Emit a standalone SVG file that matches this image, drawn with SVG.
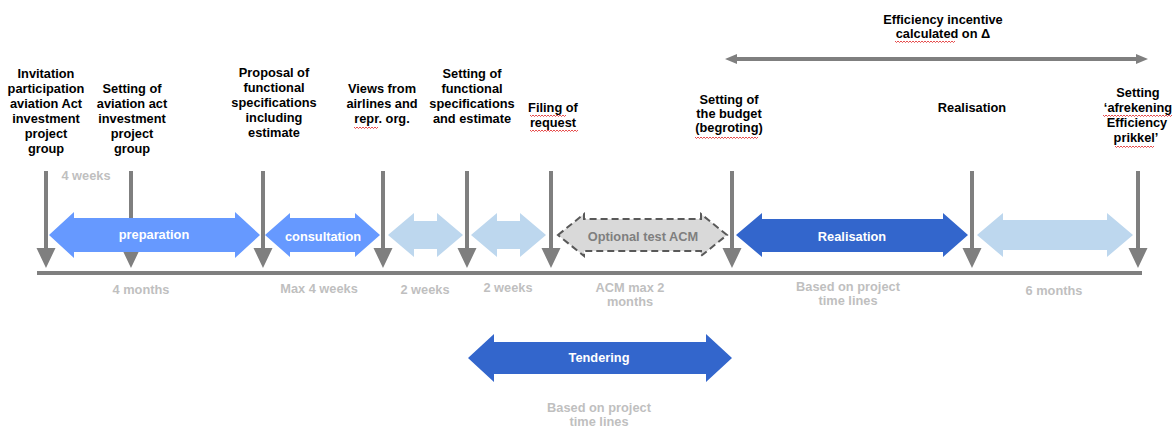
<svg xmlns="http://www.w3.org/2000/svg" width="1173" height="427" viewBox="0 0 1173 427">
<style>
.lbl{font-family:"Liberation Sans",Arial,sans-serif;font-size:12.8px;font-weight:bold;fill:#000;text-anchor:middle}
.in{font-family:"Liberation Sans",Arial,sans-serif;font-size:12.8px;font-weight:bold;fill:#fff;text-anchor:middle}
.dur{font-family:"Liberation Sans",Arial,sans-serif;font-size:12.8px;font-weight:bold;fill:#bfbfbf;text-anchor:middle}
.opt{font-family:"Liberation Sans",Arial,sans-serif;font-size:12.8px;font-weight:bold;fill:#7f7f7f;text-anchor:middle}
.mid{fill:#6699ff}
.light{fill:#bdd7ee}
.dark{fill:#3366cc}
.gr{fill:#7f7f7f}
.sq{fill:none;stroke:#e02020;stroke-width:0.8}
</style>
<defs>
<path id="down" d="M-2,0 L2,0 L2,77 L9.5,77 L0,97 L-9.5,77 L-2,77 Z" fill="#7f7f7f"/>
</defs>
<g id="connectors">
<rect x="37" y="271" width="1105" height="4" fill="#7f7f7f"/>
<use href="#down" x="46" y="171"/>
<use href="#down" x="131" y="171"/>
<use href="#down" x="263" y="171"/>
<use href="#down" x="383" y="171"/>
<use href="#down" x="467" y="171"/>
<use href="#down" x="551" y="171"/>
<use href="#down" x="732" y="171"/>
<use href="#down" x="972" y="171"/>
<use href="#down" x="1138" y="171"/>
<path class="gr" d="M725,59 L737,54 L737,57 L1136,57 L1136,54 L1148,59 L1136,64 L1136,61 L737,61 L737,64 Z"/>
</g>
<g id="preparation">
<path class="mid" d="M49,235 L74,212 L74,218 L235,218 L235,212 L260,235 L235,258 L235,252 L74,252 L74,258 Z"/>
<text class="in" x="154" y="239">preparation</text>
</g>
<g id="consultation">
<path class="mid" d="M265,235 L290,213 L290,218 L355,218 L355,213 L380,235 L355,257 L355,252 L290,252 L290,257 Z"/>
<text class="in" x="323" y="241">consultation</text>
</g>
<g id="twoweeks1">
<path class="light" d="M388,235 L414,213 L414,221 L437,221 L437,213 L463,235 L437,257 L437,249 L414,249 L414,257 Z"/>
</g>
<g id="twoweeks2">
<path class="light" d="M471,235 L497,213 L497,221 L520,221 L520,213 L546,235 L520,257 L520,249 L497,249 L497,257 Z"/>
</g>
<g id="optional">
<path d="M558,235 L584,214 L584,219 L701,219 L701,214 L727,235 L701,256 L701,251 L584,251 L584,256 Z" fill="#d9d9d9" stroke="#595959" stroke-width="2" stroke-dasharray="7,4"/>
<text class="opt" x="643" y="241">Optional test ACM</text>
</g>
<g id="realisation">
<path class="dark" d="M736,235 L762,213 L762,219 L943,219 L943,213 L968,235 L943,257 L943,252 L762,252 L762,257 Z"/>
<text class="in" x="852" y="241">Realisation</text>
</g>
<g id="sixmonths">
<path class="light" d="M977,235 L1003,213 L1003,220 L1107,220 L1107,213 L1133,235 L1107,257 L1107,250 L1003,250 L1003,257 Z"/>
</g>
<g id="tendering">
<path class="dark" d="M468,358 L494,334 L494,342 L706,342 L706,334 L732,358 L706,382 L706,374 L494,374 L494,382 Z"/>
<text class="in" x="599" y="362">Tendering</text>
</g>
<g id="labels-top">
<text class="lbl" x="46"><tspan x="46" y="78">Invitation</tspan><tspan x="46" y="93">participation</tspan><tspan x="46" y="108">aviation Act</tspan><tspan x="46" y="123">investment</tspan><tspan x="46" y="138">project</tspan><tspan x="46" y="153">group</tspan></text>
<text class="lbl" x="132"><tspan x="132" y="93">Setting of</tspan><tspan x="132" y="108">aviation act</tspan><tspan x="132" y="123">investment</tspan><tspan x="132" y="138">project</tspan><tspan x="132" y="153">group</tspan></text>
<text class="lbl" x="274"><tspan x="274" y="77">Proposal of</tspan><tspan x="274" y="92">functional</tspan><tspan x="274" y="107">specifications</tspan><tspan x="274" y="122">including</tspan><tspan x="274" y="137">estimate</tspan></text>
<text class="lbl" x="382"><tspan x="382" y="93">Views from</tspan><tspan x="382" y="108">airlines and</tspan><tspan x="382" y="123">repr. org.</tspan></text>
<text class="lbl" x="472"><tspan x="472" y="78">Setting of</tspan><tspan x="472" y="93">functional</tspan><tspan x="472" y="108">specifications</tspan><tspan x="472" y="123">and estimate</tspan></text>
<text class="lbl" x="553"><tspan x="553" y="112">Filing of</tspan><tspan x="553" y="127">request</tspan></text>
<text class="lbl" x="943"><tspan x="943" y="24">Efficiency incentive</tspan><tspan x="943" y="38">calculated on Δ</tspan></text>
<text class="lbl" x="729"><tspan x="729" y="104">Setting of</tspan><tspan x="729" y="118">the budget</tspan><tspan x="729" y="132">(begroting)</tspan></text>
<text class="lbl" x="972" y="112">Realisation</text>
<text class="lbl" x="1137"><tspan x="1138" y="97">Setting</tspan><tspan x="1138" y="112">‘afrekening</tspan><tspan x="1137" y="127">Efficiency</tspan><tspan x="1136" y="142">prikkel’</tspan></text>
</g>
<g id="spellcheck">
<path class="sq" d="M354,127 l1.5,1.5 l1.5,-1.5 l1.5,1.5 l1.5,-1.5 l1.5,1.5 l1.5,-1.5 l1.5,1.5 l1.5,-1.5 l1.5,1.5 l1.5,-1.5 l1.5,1.5 l1.5,-1.5 l1.5,1.5 l1.5,-1.5 l1.5,1.5 l1.5,-1.5"/>
<path class="sq" d="M530,115 l1.5,1.5 l1.5,-1.5 l1.5,1.5 l1.5,-1.5 l1.5,1.5 l1.5,-1.5 l1.5,1.5 l1.5,-1.5 l1.5,1.5 l1.5,-1.5 l1.5,1.5 l1.5,-1.5 l1.5,1.5 l1.5,-1.5 l1.5,1.5 l1.5,-1.5 l1.5,1.5 l1.5,-1.5 l1.5,1.5 l1.5,-1.5 l1.5,1.5 l1.5,-1.5 l1.5,1.5 l1.5,-1.5"/>
<path class="sq" d="M530,130 l1.5,1.5 l1.5,-1.5 l1.5,1.5 l1.5,-1.5 l1.5,1.5 l1.5,-1.5 l1.5,1.5 l1.5,-1.5 l1.5,1.5 l1.5,-1.5 l1.5,1.5 l1.5,-1.5 l1.5,1.5 l1.5,-1.5 l1.5,1.5 l1.5,-1.5 l1.5,1.5 l1.5,-1.5 l1.5,1.5 l1.5,-1.5 l1.5,1.5 l1.5,-1.5 l1.5,1.5 l1.5,-1.5 l1.5,1.5 l1.5,-1.5 l1.5,1.5 l1.5,-1.5 l1.5,1.5 l1.5,-1.5 l1.5,1.5 l1.5,-1.5"/>
<path class="sq" d="M895,41 l1.5,1.5 l1.5,-1.5 l1.5,1.5 l1.5,-1.5 l1.5,1.5 l1.5,-1.5 l1.5,1.5 l1.5,-1.5 l1.5,1.5 l1.5,-1.5 l1.5,1.5 l1.5,-1.5 l1.5,1.5 l1.5,-1.5 l1.5,1.5 l1.5,-1.5 l1.5,1.5 l1.5,-1.5 l1.5,1.5 l1.5,-1.5 l1.5,1.5 l1.5,-1.5 l1.5,1.5 l1.5,-1.5 l1.5,1.5 l1.5,-1.5 l1.5,1.5 l1.5,-1.5 l1.5,1.5 l1.5,-1.5 l1.5,1.5 l1.5,-1.5 l1.5,1.5 l1.5,-1.5 l1.5,1.5 l1.5,-1.5 l1.5,1.5 l1.5,-1.5 l1.5,1.5 l1.5,-1.5"/>
<path class="sq" d="M695,137 l1.5,1.5 l1.5,-1.5 l1.5,1.5 l1.5,-1.5 l1.5,1.5 l1.5,-1.5 l1.5,1.5 l1.5,-1.5 l1.5,1.5 l1.5,-1.5 l1.5,1.5 l1.5,-1.5 l1.5,1.5 l1.5,-1.5 l1.5,1.5 l1.5,-1.5 l1.5,1.5 l1.5,-1.5 l1.5,1.5 l1.5,-1.5 l1.5,1.5 l1.5,-1.5 l1.5,1.5 l1.5,-1.5 l1.5,1.5 l1.5,-1.5 l1.5,1.5 l1.5,-1.5 l1.5,1.5 l1.5,-1.5 l1.5,1.5 l1.5,-1.5 l1.5,1.5 l1.5,-1.5 l1.5,1.5 l1.5,-1.5 l1.5,1.5 l1.5,-1.5 l1.5,1.5 l1.5,-1.5 l1.5,1.5 l1.5,-1.5"/>
<path class="sq" d="M1103,115 l1.5,1.5 l1.5,-1.5 l1.5,1.5 l1.5,-1.5 l1.5,1.5 l1.5,-1.5 l1.5,1.5 l1.5,-1.5 l1.5,1.5 l1.5,-1.5 l1.5,1.5 l1.5,-1.5 l1.5,1.5 l1.5,-1.5 l1.5,1.5 l1.5,-1.5 l1.5,1.5 l1.5,-1.5 l1.5,1.5 l1.5,-1.5 l1.5,1.5 l1.5,-1.5 l1.5,1.5 l1.5,-1.5 l1.5,1.5 l1.5,-1.5 l1.5,1.5 l1.5,-1.5 l1.5,1.5 l1.5,-1.5 l1.5,1.5 l1.5,-1.5 l1.5,1.5 l1.5,-1.5 l1.5,1.5 l1.5,-1.5 l1.5,1.5 l1.5,-1.5 l1.5,1.5 l1.5,-1.5 l1.5,1.5 l1.5,-1.5 l1.5,1.5 l1.5,-1.5 l1.5,1.5 l1.5,-1.5"/>
<path class="sq" d="M1115,146 l1.5,1.5 l1.5,-1.5 l1.5,1.5 l1.5,-1.5 l1.5,1.5 l1.5,-1.5 l1.5,1.5 l1.5,-1.5 l1.5,1.5 l1.5,-1.5 l1.5,1.5 l1.5,-1.5 l1.5,1.5 l1.5,-1.5 l1.5,1.5 l1.5,-1.5 l1.5,1.5 l1.5,-1.5 l1.5,1.5 l1.5,-1.5 l1.5,1.5 l1.5,-1.5 l1.5,1.5 l1.5,-1.5 l1.5,1.5 l1.5,-1.5"/>
</g>
<g id="durations">
<text class="dur" x="86" y="180">4 weeks</text>
<text class="dur" x="141" y="294">4 months</text>
<text class="dur" x="319" y="293">Max 4 weeks</text>
<text class="dur" x="425" y="294">2 weeks</text>
<text class="dur" x="508" y="292">2 weeks</text>
<text class="dur"><tspan x="630" y="292">ACM max 2</tspan><tspan x="630" y="306">months</tspan></text>
<text class="dur"><tspan x="848" y="291">Based on project</tspan><tspan x="848" y="305">time lines</tspan></text>
<text class="dur" x="1054" y="295">6 months</text>
<text class="dur"><tspan x="599" y="412">Based on project</tspan><tspan x="599" y="426">time lines</tspan></text>
</g>
</svg>
